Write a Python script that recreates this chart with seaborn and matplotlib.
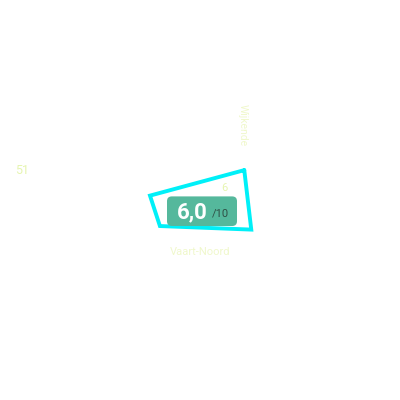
import numpy as np
import seaborn as sns
from matplotlib import pyplot as plt
from matplotlib.patches import FancyBboxPatch

sns.set_theme(style="white")
plt.rcParams['font.family'] = ['Roboto', 'DejaVu Sans']

# radar values (scale 0-10 from centre to edge)
categories = ["A", "B", "C", "D"]
angles_deg = [34, -30, 213, 175]
values = [2.67, 2.96, 2.39, 2.51]

score_text = "6,0"
score_max = "/10"
label_bottom = "Vaart-Noord"
label_side = "Wijkende"
label_left = "51"
label_value = "6"

pale = "#f0f8cc"

fig = plt.figure(figsize=(4, 4), dpi=100)
ax = fig.add_axes([0, 0, 1, 1], projection="polar")
ax.set_ylim(0, 10)
ax.set_axis_off()

theta = np.deg2rad(angles_deg + angles_deg[:1])
r = values + values[:1]
ax.plot(theta, r, color="#00f0f8", lw=2.8, solid_joinstyle="miter")

# score badge
badge = FancyBboxPatch((0.4175, 0.435), 0.175, 0.074,
                       boxstyle="round,pad=0,rounding_size=0.012",
                       transform=fig.transFigure, facecolor="#55b89c",
                       edgecolor="none", zorder=5)
fig.patches.append(badge)
fig.text(0.481, 0.470, score_text, color="white", fontsize=16,
         fontweight="bold", ha="center", va="center", zorder=6)
fig.text(0.530, 0.467, score_max, color="#2f4f45", fontsize=8,
         ha="left", va="center", zorder=6)

fig.text(0.5, 0.37, label_bottom, color=pale, fontsize=8,
         ha="center", va="center")
fig.text(0.607, 0.687, label_side, color=pale, fontsize=7.5,
         rotation=270, ha="center", va="center")
fig.text(0.055, 0.575, label_left, color="#e6f5b0", fontsize=9,
         ha="center", va="center")
fig.text(0.56, 0.53, label_value, color="#e6f5b0", fontsize=8,
         ha="center", va="center")

fig.savefig("out.png", dpi=100)
